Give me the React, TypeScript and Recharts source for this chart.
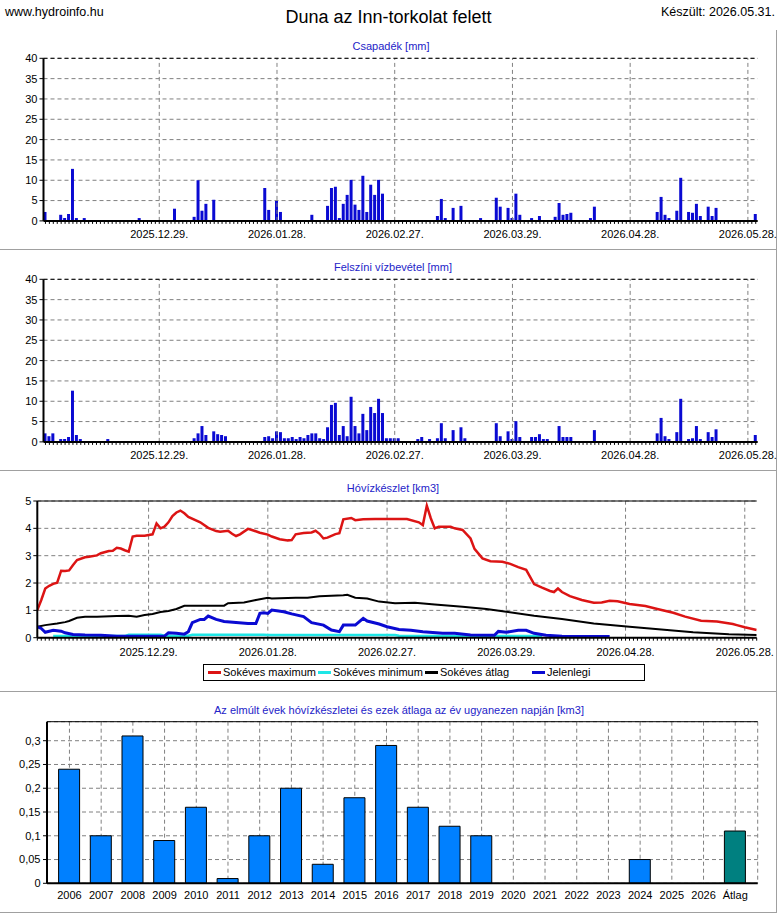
import React from 'react';
import {
  BarChart, Bar, LineChart, Line, XAxis, YAxis, CartesianGrid, ReferenceLine, Cell,
} from 'recharts';

const FONT = "'Liberation Sans', Arial, sans-serif";

// ---- day axis for the two bar panels (day 0 = 2025.11.29.) ----
const BAR_START_UTC = Date.UTC(2025, 10, 29);
const BAR_FIRST_DAY = 1;
const BAR_LAST_DAY = 182;
const DATE_TICKS = ['2025.12.29.', '2026.01.28.', '2026.02.27.', '2026.03.29.', '2026.04.28.', '2026.05.28.'];

// [day, mm]
const PRECIP: [number, number][] = [
  [1, 2.2], [5, 1.5], [6, 0.7], [7, 1.7], [8, 12.8], [9, 0.7], [11, 0.7], [25, 0.7],
  [34, 3.0], [39, 1.0], [40, 10.0], [41, 2.5], [42, 4.2], [44, 5.2],
  [57, 8.1], [58, 2.7], [60, 4.9], [61, 2.2], [69, 1.5],
  [73, 3.7], [74, 8.1], [75, 8.4], [76, 0.7], [77, 4.2], [78, 6.4], [79, 10.1], [80, 4.0],
  [81, 2.7], [82, 11.1], [83, 2.2], [84, 8.9], [85, 6.4], [86, 10.1], [87, 6.7],
  [101, 1.2], [102, 5.4], [103, 0.7], [105, 3.2], [107, 3.7], [112, 0.7],
  [116, 5.7], [117, 3.5], [119, 3.2], [120, 0.7], [121, 6.7], [122, 1.5], [125, 0.7], [127, 1.2],
  [131, 1.0], [132, 4.4], [133, 1.5], [134, 1.7], [135, 2.0], [140, 0.7], [141, 3.5],
  [157, 2.2], [158, 5.9], [159, 1.5], [160, 0.7], [162, 2.5], [163, 10.6],
  [165, 2.2], [166, 2.0], [167, 4.2], [168, 1.2], [170, 3.5], [171, 1.2], [172, 3.2], [182, 1.7],
];

const SURFACE: [number, number][] = [
  [1, 2.1], [2, 1.4], [3, 2.1], [5, 0.7], [6, 0.7], [7, 1.2], [8, 12.6], [9, 1.7], [10, 0.7], [17, 0.7],
  [39, 0.9], [40, 2.1], [41, 3.9], [42, 1.7], [44, 2.6], [45, 1.9], [46, 1.7], [47, 1.4],
  [57, 1.2], [58, 1.4], [59, 0.9], [60, 2.6], [61, 2.4], [62, 0.9], [63, 0.9], [64, 1.2], [65, 0.7],
  [66, 1.2], [67, 0.9], [68, 1.7], [69, 2.1], [70, 2.1], [71, 0.9], [72, 0.7], [73, 3.6], [74, 9.1],
  [75, 9.6], [76, 1.7], [77, 3.9], [78, 1.4], [79, 11.1], [80, 3.9], [81, 2.1], [82, 6.9], [83, 2.9],
  [84, 8.6], [85, 7.1], [86, 10.6], [87, 7.1], [88, 0.9], [89, 0.9], [90, 0.9], [91, 0.9],
  [96, 0.7], [97, 1.2], [99, 0.7], [101, 0.9], [102, 4.6], [103, 0.9], [105, 2.9], [107, 3.6], [108, 0.9],
  [116, 4.6], [117, 1.4], [119, 2.6], [120, 0.7], [121, 5.1], [122, 1.2], [125, 1.2], [126, 1.2],
  [127, 1.9], [128, 0.7], [129, 0.7], [132, 3.9], [133, 1.2], [134, 1.2], [135, 1.2], [141, 2.9],
  [157, 2.1], [158, 5.9], [159, 1.4], [160, 0.7], [162, 2.4], [163, 10.6], [165, 0.7], [166, 0.9],
  [167, 3.9], [168, 0.7], [170, 2.4], [171, 1.2], [172, 3.1], [182, 1.7],
];

const MM_TICKS = [0, 5, 10, 15, 20, 25, 30, 35, 40];

// ---- snow water panel (day 0 = 2025.12.01.) ----
const SNOW_DAY_MAX = 181;
const SNOW_TICK_DAYS = [28, 58, 88, 118, 148, 178];
const KM3_TICKS = [0, 1, 2, 3, 4, 5];

const SNOW_MAX: [number, number][] = [
  [0, 1.01], [1, 1.38], [2, 1.8], [3, 1.9], [4, 1.97], [5, 2.01], [6, 2.45], [7, 2.44], [8, 2.46],
  [9, 2.66], [10, 2.84], [12, 2.94], [13, 2.96], [15, 3.01], [16, 3.09], [18, 3.17], [19, 3.18],
  [20, 3.29], [21, 3.26], [22, 3.2], [23, 3.15], [24, 3.7], [25, 3.73], [27, 3.73], [29, 3.78],
  [30, 4.18], [31, 4.0], [32, 4.06], [33, 4.22], [34, 4.45], [35, 4.58], [36, 4.65], [37, 4.55],
  [38, 4.42], [41, 4.22], [43, 4.02], [45, 3.9], [46, 3.88], [48, 3.91], [49, 3.8], [50, 3.72],
  [51, 3.78], [53, 3.98], [54, 3.94], [56, 3.84], [58, 3.77], [59, 3.7], [61, 3.6], [63, 3.56],
  [64, 3.57], [65, 3.78], [67, 3.83], [69, 3.85], [70, 3.91], [71, 3.8], [72, 3.63], [73, 3.66],
  [75, 3.79], [76, 3.82], [77, 4.33], [79, 4.38], [80, 4.3], [82, 4.33], [85, 4.34], [91, 4.34],
  [93, 4.34], [96, 4.22], [97, 4.12], [98, 4.83], [99, 4.37], [100, 4.0], [101, 4.06], [104, 4.06],
  [105, 4.0], [107, 3.94], [109, 3.63], [110, 3.25], [112, 2.9], [114, 2.8], [117, 2.78], [119, 2.7],
  [121, 2.58], [123, 2.48], [125, 1.96], [127, 1.83], [129, 1.71], [130, 1.67], [131, 1.8], [132, 1.67],
  [134, 1.52], [137, 1.38], [140, 1.28], [142, 1.29], [144, 1.35], [146, 1.33], [149, 1.23],
  [153, 1.16], [156, 1.05], [160, 0.91], [163, 0.77], [167, 0.62], [171, 0.59], [175, 0.5],
  [176, 0.46], [178, 0.38], [181, 0.28],
];

const SNOW_MIN: [number, number][] = [
  [4, 0.06], [22, 0.06], [23, 0.11], [31, 0.11], [32, 0.07], [38, 0.07], [39, 0.11], [57, 0.11],
  [58, 0.1], [90, 0.1], [91, 0.07], [127, 0.06],
];

const SNOW_AVG: [number, number][] = [
  [0, 0.4], [2, 0.46], [5, 0.52], [7, 0.57], [8, 0.61], [10, 0.73], [12, 0.77], [15, 0.77], [20, 0.79],
  [23, 0.8], [25, 0.77], [27, 0.83], [29, 0.87], [31, 0.94], [33, 0.98], [35, 1.05], [37, 1.17],
  [42, 1.17], [47, 1.17], [48, 1.26], [52, 1.29], [55, 1.38], [58, 1.46], [59, 1.43], [65, 1.46],
  [68, 1.46], [71, 1.52], [77, 1.55], [78, 1.57], [80, 1.46], [83, 1.43], [86, 1.32], [90, 1.26],
  [95, 1.28], [100, 1.21], [107, 1.13], [113, 1.05], [118, 0.95], [125, 0.8], [132, 0.68],
  [140, 0.52], [149, 0.4], [157, 0.3], [165, 0.2], [174, 0.13], [181, 0.1],
];

const SNOW_NOW: [number, number][] = [
  [0, 0.4], [1, 0.34], [2, 0.2], [4, 0.27], [6, 0.24], [7, 0.18], [9, 0.12], [12, 0.1], [16, 0.09],
  [20, 0.05], [28, 0.05], [32, 0.06], [33, 0.18], [35, 0.16], [37, 0.13], [38, 0.22], [39, 0.55],
  [41, 0.67], [42, 0.67], [43, 0.79], [45, 0.67], [47, 0.59], [50, 0.56], [53, 0.52], [55, 0.52],
  [56, 0.89], [57, 0.91], [58, 0.89], [59, 1.01], [62, 0.95], [64, 0.87], [67, 0.77], [69, 0.55],
  [72, 0.46], [74, 0.28], [76, 0.22], [77, 0.46], [80, 0.46], [82, 0.71], [83, 0.61], [86, 0.5],
  [88, 0.4], [91, 0.3], [94, 0.27], [97, 0.22], [102, 0.16], [105, 0.16], [109, 0.1], [115, 0.09],
  [116, 0.23], [118, 0.2], [121, 0.27], [123, 0.27], [125, 0.16], [128, 0.09], [132, 0.05], [144, 0.04],
];

// ---- yearly panel ----
const YEARS = ['2006', '2007', '2008', '2009', '2010', '2011', '2012', '2013', '2014', '2015', '2016',
  '2017', '2018', '2019', '2020', '2021', '2022', '2023', '2024', '2025', '2026', 'Átlag'];
const YEAR_KM3 = [0.24, 0.10, 0.31, 0.09, 0.16, 0.01, 0.10, 0.20, 0.04, 0.18, 0.29,
  0.16, 0.12, 0.10, 0, 0, 0, 0, 0.05, 0, 0, 0.11];
const YEAR_TICKS = [0, 0.05, 0.1, 0.15, 0.2, 0.25, 0.3];
const YEAR_MAX = 0.34;

// ---- helpers ----
const pad = (n: number) => (n < 10 ? '0' + n : '' + n);
function dayLabel(start: number, i: number) {
  const d = new Date(start + i * 86400000);
  return `${d.getUTCFullYear()}.${pad(d.getUTCMonth() + 1)}.${pad(d.getUTCDate())}.`;
}

function buildDaily(pairs: [number, number][]) {
  const m = new Map<number, number>(pairs);
  const rows: { date: string; v: number }[] = [];
  for (let i = BAR_FIRST_DAY; i <= BAR_LAST_DAY; i++) {
    rows.push({ date: dayLabel(BAR_START_UTC, i), v: m.get(i) ?? 0 });
  }
  return rows;
}
const toPts = (pairs: [number, number][]) => pairs.map(([d, v]) => ({ d, v }));

const SNOW_START_UTC = Date.UTC(2025, 11, 1);
const snowAllDays: number[] = [];
for (let i = 0; i <= SNOW_DAY_MAX; i++) snowAllDays.push(i);

const yearData = YEARS.map((y, i) => ({ y, v: YEAR_KM3[i] }));

const dateTickSet = new Set(DATE_TICKS);

const BarDateTick = (props: any) => {
  const { x, y, payload } = props;
  if (!dateTickSet.has(payload.value)) return <g />;
  return (
    <text x={x} y={y} dy="0.71em" textAnchor="middle" fontSize={11} fill="#000" fontFamily={FONT}>
      {payload.value}
    </text>
  );
};

const SnowDayTick = (props: any) => {
  const { x, y, payload } = props;
  if (!SNOW_TICK_DAYS.includes(payload.value)) return <g />;
  return (
    <text x={x} y={y} dy="0.71em" textAnchor="middle" fontSize={11} fill="#000" fontFamily={FONT}>
      {dayLabel(SNOW_START_UTC, payload.value)}
    </text>
  );
};

const GRID = '#808080';
const DASH = '4 3';
const TICK_STYLE = { fill: '#000', fontSize: 11, fontFamily: FONT };
const TITLE_COLOR = '#2323c8';
const BAR_BLUE = '#0a0ad2';

function PanelTitle({ text, cx, cy }: { text: string; cx: number; cy: number }) {
  return (
    <div style={{
      position: 'absolute', left: cx - 300, width: 600, top: cy - 7, height: 14, lineHeight: '14px',
      textAlign: 'center', fontSize: 11, color: TITLE_COLOR, fontFamily: FONT,
    }}>{text}</div>
  );
}

function DailyBars({ data, top, height, mt }: { data: { date: string; v: number }[]; top: number; height: number; mt: number }) {
  return (
    <div style={{ position: 'absolute', left: 0, top, width: 780, height }}>
      <BarChart width={780} height={height} data={data}
        margin={{ top: mt, right: 22.3, left: 8.5, bottom: height - mt - 162.6 - 20 }}>
        <CartesianGrid vertical={false} stroke={GRID} strokeDasharray={DASH} />
        {DATE_TICKS.map((d) => (
          <ReferenceLine key={d} x={d} stroke={GRID} strokeDasharray={DASH} />
        ))}
        <ReferenceLine y={40} stroke="#000" strokeDasharray={DASH} />
        <XAxis dataKey="date" interval={0} tickSize={3} tickMargin={6} height={20}
          tick={BarDateTick} axisLine={{ stroke: '#000', strokeWidth: 2 }} tickLine={{ stroke: '#000' }} />
        <YAxis domain={[0, 40]} ticks={MM_TICKS} interval={0} width={35} tickSize={4} tickMargin={2}
          tick={TICK_STYLE} axisLine={{ stroke: '#000', strokeWidth: 2 }} tickLine={{ stroke: '#000' }} />
        <YAxis yAxisId="r" orientation="right" width={0} tick={false} tickLine={false}
          axisLine={{ stroke: '#000' }} />
        <Bar dataKey="v" fill={BAR_BLUE} barSize={3} isAnimationActive={false} />
      </BarChart>
    </div>
  );
}

function LegendItem({ x, color, label }: { x: number; color: string; label: string }) {
  return (
    <div style={{ position: 'absolute', left: x, top: 0, height: 15, display: 'flex', alignItems: 'center' }}>
      <div style={{ width: 13, height: 2.5, background: color, marginRight: 2 }} />
      <span style={{ fontSize: 11, fontFamily: FONT, color: '#000', lineHeight: '15px' }}>{label}</span>
    </div>
  );
}

export default function App() {
  const precip = buildDaily(PRECIP);
  const surface = buildDaily(SURFACE);

  return (
    <div style={{ position: 'absolute', left: 0, top: 0, width: 780, height: 913, background: '#fff', fontFamily: FONT }}>
      {/* header */}
      <div style={{ position: 'absolute', left: 5, top: 4, fontSize: 12.5, lineHeight: '16px', color: '#000' }}>www.hydroinfo.hu</div>
      <div style={{ position: 'absolute', left: 0, width: 777, top: 6, fontSize: 18, lineHeight: '22px', textAlign: 'center', color: '#000' }}>
        Duna az Inn-torkolat felett
      </div>
      <div style={{ position: 'absolute', left: 0, width: 775, top: 4, fontSize: 12.5, lineHeight: '16px', textAlign: 'right', color: '#000' }}>
        Készült: 2026.05.31.
      </div>

      {/* panel frames */}
      <div style={{ position: 'absolute', left: 776, top: 30, width: 1, height: 882, background: '#a0a0a0' }} />
      {[249, 470, 691, 912].map((y) => (
        <div key={y} style={{ position: 'absolute', left: 0, top: y, width: 777, height: 1, background: '#a0a0a0' }} />
      ))}

      {/* panel 1 */}
      <PanelTitle text="Csapadék [mm]" cx={391} cy={46} />
      <DailyBars data={precip} top={30} height={219} mt={28.3} />

      {/* panel 2 */}
      <PanelTitle text="Felszíni vízbevétel [mm]" cx={393} cy={267} />
      <DailyBars data={surface} top={249} height={221} mt={30.3} />

      {/* panel 3 */}
      <PanelTitle text="Hóvízkészlet [km3]" cx={393} cy={488} />
      <div style={{ position: 'absolute', left: 0, top: 470, width: 780, height: 221 }}>
        <LineChart width={780} height={221} margin={{ top: 31, right: 23.3, left: 7.3, bottom: 33.3 }}>
          <CartesianGrid vertical={false} stroke={GRID} strokeDasharray={DASH} />
          {SNOW_TICK_DAYS.map((d) => (
            <ReferenceLine key={d} x={d} stroke={GRID} strokeDasharray={DASH} />
          ))}
          <ReferenceLine y={5} stroke="#000" />
          <XAxis type="number" dataKey="d" domain={[0, SNOW_DAY_MAX]} ticks={snowAllDays} interval={0}
            tickSize={3} tickMargin={7} height={20} tick={SnowDayTick} allowDataOverflow
            axisLine={{ stroke: '#000', strokeWidth: 2 }} tickLine={{ stroke: '#000' }} />
          <YAxis domain={[0, 5]} ticks={KM3_TICKS} interval={0} width={30} tickSize={4} tickMargin={2}
            tick={TICK_STYLE} axisLine={{ stroke: '#000', strokeWidth: 2 }} tickLine={{ stroke: '#000' }} />
          <YAxis yAxisId="r" orientation="right" width={0} tick={false} tickLine={false}
            axisLine={{ stroke: '#000' }} />
          <Line data={toPts(SNOW_MAX)} dataKey="v" type="linear" stroke="#dc1414" strokeWidth={2.5} dot={false} isAnimationActive={false} />
          <Line data={toPts(SNOW_AVG)} dataKey="v" type="linear" stroke="#000" strokeWidth={2} dot={false} isAnimationActive={false} />
          <Line data={toPts(SNOW_MIN)} dataKey="v" type="linear" stroke="#1ee6e6" strokeWidth={2.5} dot={false} isAnimationActive={false} />
          <Line data={toPts(SNOW_NOW)} dataKey="v" type="linear" stroke="#0a0ad2" strokeWidth={3} dot={false} isAnimationActive={false} />
        </LineChart>
      </div>
      <div style={{ position: 'absolute', left: 203, top: 664, width: 442, height: 17, border: '1px solid #000', boxSizing: 'border-box' }}>
        <LegendItem x={4} color="#dc1414" label="Sokéves maximum" />
        <LegendItem x={114} color="#1ee6e6" label="Sokéves minimum" />
        <LegendItem x={221} color="#000" label="Sokéves átlag" />
        <LegendItem x={328} color="#0a0ad2" label="Jelenlegi" />
      </div>

      {/* panel 4 */}
      <PanelTitle text="Az elmúlt évek hóvízkészletei és ezek átlaga az év ugyanezen napján [km3]" cx={399} cy={709.5} />
      <div style={{ position: 'absolute', left: 0, top: 691, width: 780, height: 221 }}>
        <BarChart width={780} height={221} data={yearData} margin={{ top: 30.7, right: 22.3, left: 9, bottom: 8.7 }}>
          <CartesianGrid stroke={GRID} strokeDasharray={DASH} />
          <ReferenceLine y={YEAR_MAX} stroke="#000" />
          <XAxis dataKey="y" interval={0} padding={{ left: 6.6, right: 6.6 }} tickSize={0} tickMargin={8} height={20}
            tick={TICK_STYLE} tickLine={false} axisLine={{ stroke: '#000', strokeWidth: 2 }} />
          <YAxis domain={[0, YEAR_MAX]} ticks={YEAR_TICKS} interval={0} width={38} tickSize={4} tickMargin={2.5}
            tick={TICK_STYLE} tickFormatter={(v: number) => String(v).replace('.', ',')}
            axisLine={{ stroke: '#000', strokeWidth: 2 }} tickLine={{ stroke: '#000' }} />
          <YAxis yAxisId="r" orientation="right" width={0} tick={false} tickLine={false}
            axisLine={{ stroke: '#000' }} />
          <Bar dataKey="v" barSize={21} stroke="#000" strokeWidth={1} isAnimationActive={false}>
            {yearData.map((r) => (
              <Cell key={r.y} fill={r.y === 'Átlag' ? '#008080' : '#0080ff'} />
            ))}
          </Bar>
        </BarChart>
      </div>
    </div>
  );
}
